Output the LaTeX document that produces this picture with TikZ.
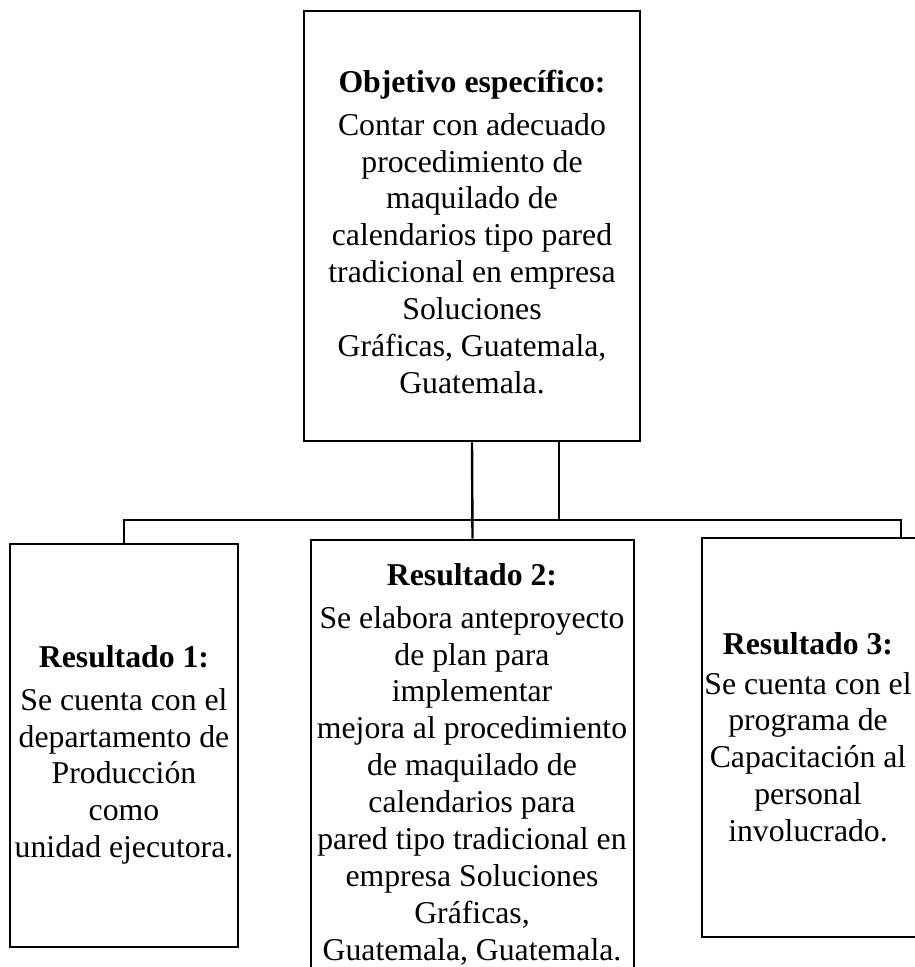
\documentclass[tikz,border=0pt]{standalone}
\usepackage{fontspec}
\setmainfont{Liberation Serif}
\begin{document}
\begin{tikzpicture}[x=0.75pt,y=-0.75pt,
  box/.style={draw=black, line width=2.2pt, rectangle, inner sep=0pt},
  conn/.style={draw=black, line width=1.8pt},
  txt/.style={inner sep=0pt, anchor=base, font=\fontsize{23.8}{27.7}\selectfont}]
\path[use as bounding box] (0,0) rectangle (914,967);
% boxes
\node[box, minimum width=252pt, minimum height=322.5pt] (top) at (472,226) {};
\node[box, minimum width=171pt, minimum height=302.25pt] (r1) at (124,745.5) {};
\node[box, minimum width=242.25pt, minimum height=337.5pt] (r2) at (472.5,765) {};
\node[box, minimum width=165pt, minimum height=299.25pt] (r3) at (812,737.5) {};
% texts
\node[txt] (t0) at (472,92) {\begin{tabular}[t]{@{}c@{}}\textbf{Objetivo específico:}\\[4.6pt]
Contar con adecuado\\ procedimiento de\\ maquilado de\\ calendarios tipo pared\\ tradicional en empresa\\ Soluciones\\ Gráficas, Guatemala,\\ Guatemala.\end{tabular}};
\node[txt] (t1) at (124,667) {\begin{tabular}[t]{@{}c@{}}\textbf{Resultado 1:}\\[4.6pt]
Se cuenta con el\\ departamento de\\ Producción\\ como\\ unidad ejecutora.\end{tabular}};
\node[txt] (t2) at (472,585) {\begin{tabular}[t]{@{}c@{}}\textbf{Resultado 2:}\\[4.6pt]
Se elabora anteproyecto\\ de plan para\\ implementar\\ mejora al procedimiento\\ de maquilado de\\ calendarios para\\ pared tipo tradicional en\\ empresa Soluciones\\ Gráficas,\\ Guatemala, Guatemala.\end{tabular}};
\node[txt] (t3) at (808,654) {\begin{tabular}[t]{@{}c@{}}\textbf{Resultado 3:}\\[2.3pt]
Se cuenta con el\\ programa de\\ Capacitación al\\ personal\\ involucrado.\end{tabular}};
% connectors
\coordinate (j) at (559,520);
\coordinate (hl) at (124,520);
\coordinate (hr) at (901,520);
\draw[conn] (top.south) -- (r2.north);
\draw[conn] (top.south -| j) -- (j);
\draw[conn] (r1.north) -- (hl) -- (hr) -- (hr |- r3.north);
\end{tikzpicture}
\end{document}
